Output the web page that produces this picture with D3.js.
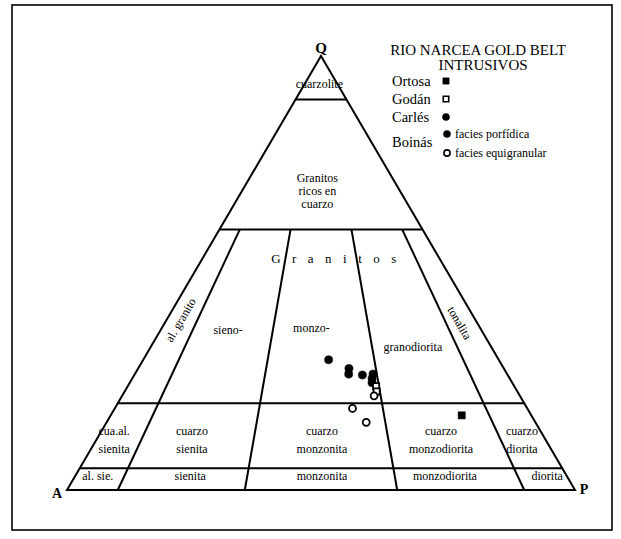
<!DOCTYPE html>
<html>
<head>
<meta charset="utf-8">
<script src="https://cdn.jsdelivr.net/npm/d3@7"></script>
<style>
  body { margin: 0; background: #fff; }
  text { font-family: "Liberation Serif", "Times New Roman", serif; fill: #000; }
</style>
</head>
<body>
<div id="app"></div>
<script>
// Q levels (horizontal boundaries) and P/(A+P) ratios (radial boundaries), in %
const qLevels = [90, 60, 20, 5];
const pRatios = [10, 35, 65, 90];

// samples as [Q, A, P]
const ortosa = [[17.2, 13.7, 69.1]];
const godan = [[23.9, 27.2, 48.9], [22.7, 27.7, 49.6]];
const carles = [[30.0, 33.5, 36.5], [28.0, 30.5, 41.5], [26.7, 31.2, 42.1]];
const boinasPorf = [[26.5, 28.6, 44.9], [26.7, 26.4, 46.9], [25.7, 27.1, 47.2], [24.7, 27.6, 47.7]];
const boinasEqui = [[21.7, 28.7, 49.6], [18.8, 34.4, 46.8], [15.6, 33.3, 51.1]];

// field names, anchored at [Q%, P/(A+P)%]
const fieldNames = [
  { t: ["cuarzolite"], at: [93.5, 45] },
  { t: ["Granitos", "ricos en", "cuarzo"], at: [68.9, 47.7] },
  { t: ["sieno-"], at: [36.9, 21] },
  { t: ["monzo-"], at: [37.3, 47] },
  { t: ["granodiorita"], at: [33, 77] },
  { t: ["cua.al.", "sienita"], at: [11.5, 4] },
  { t: ["cuarzo", "sienita"], at: [11.5, 21.3] },
  { t: ["cuarzo", "monzonita"], at: [11.5, 50.2] },
  { t: ["cuarzo", "monzodiorita"], at: [11.5, 76.7] },
  { t: ["cuarzo", "diorita"], at: [11.5, 94.7] },
  { t: ["al. sie."], at: [3.2, 4.6] },
  { t: ["sienita"], at: [3.2, 23.4] },
  { t: ["monzonita"], at: [3.2, 50.2] },
  { t: ["monzodiorita"], at: [3.2, 75.2] },
  { t: ["diorita"], at: [3.2, 96] }
];
const sideNames = [
  { t: "al. granito", at: [39.2, 4.5], side: "left" },
  { t: "tonalita", at: [38.5, 94.4], side: "right" }
];

const W = 621, H = 539;
const svg = d3.select("#app").append("svg").attr("width", W).attr("height", H);

svg.append("rect").attr("x", 12).attr("y", 5).attr("width", 600).attr("height", 525)
  .attr("fill", "none").attr("stroke", "#000").attr("stroke-width", 1.6);

const yQ = d3.scaleLinear().domain([0, 100]).range([490, 56]);
const xBase = d3.scaleLinear().domain([0, 100]).range([67, 575]);
const proj = (q, r) => {
  const t = q / 100;
  return [(1 - t) * xBase(r) + t * xBase(50), yQ(q)];
};
const projQAP = ([q, a, p]) => {
  const s = q + a + p;
  return proj(100 * q / s, 100 * p / (a + p));
};

const line = d3.line();
const g = svg.append("g").attr("fill", "none").attr("stroke", "#000").attr("stroke-width", 2);

g.append("path").attr("d", line([proj(0, 0), proj(100, 50), proj(0, 100)]) + "Z")
  .attr("stroke-linejoin", "miter");
qLevels.forEach(q => g.append("path").attr("d", line([proj(q, 0), proj(q, 100)])));
pRatios.forEach(r => g.append("path").attr("d", line([proj(0, r), proj(60, r)])));

// field labels
fieldNames.forEach(d => {
  const [x, y] = proj(d.at[0], d.at[1]);
  const n = d.t.length;
  const step = n === 3 ? 13 : 18;
  const txt = svg.append("text").attr("text-anchor", "middle").attr("font-size", 12);
  d.t.forEach((s, i) => {
    txt.append("tspan").attr("x", x).attr("y", y + (i - (n - 1) / 2) * step + 4).text(s);
  });
});

// "G r a n i t o s"
{
  const [x, y] = proj(53.5, 55.3);
  svg.append("text").attr("x", x + 6).attr("y", y + 5).attr("text-anchor", "middle")
    .attr("font-size", 13).attr("letter-spacing", 11.5).text("Granitos");
}

const angL = Math.atan2(yQ(0) - yQ(100), xBase(50) - xBase(0)) * 180 / Math.PI;
sideNames.forEach(d => {
  const [x, y] = proj(d.at[0], d.at[1]);
  const a = d.side === "left" ? -angL : angL;
  svg.append("text").attr("transform", `translate(${x},${y}) rotate(${a})`)
    .attr("text-anchor", "middle").attr("dy", "0.35em").attr("font-size", 12).text(d.t);
});

// vertex labels
svg.append("text").attr("x", xBase(50)).attr("y", 53).attr("text-anchor", "middle")
  .attr("font-size", 15).attr("font-weight", "bold").text("Q");
svg.append("text").attr("x", xBase(0) - 10).attr("y", 498).attr("text-anchor", "middle")
  .attr("font-size", 14).attr("font-weight", "bold").text("A");
svg.append("text").attr("x", xBase(100) + 9).attr("y", 494).attr("text-anchor", "middle")
  .attr("font-size", 14).attr("font-weight", "bold").text("P");

// samples
const sym = (type, size) => d3.symbol().type(type).size(size)();
const drawSet = (data, type, filled) => {
  svg.append("g").selectAll("path").data(data).join("path")
    .attr("transform", d => `translate(${projQAP(d)})`)
    .attr("d", sym(type, filled ? 52 : 38))
    .attr("fill", filled ? "#000" : "#fff")
    .attr("stroke", "#000").attr("stroke-width", filled ? 0.5 : 1.8);
};
drawSet(carles, d3.symbolCircle, true);
drawSet(boinasPorf, d3.symbolCircle, true);
drawSet(godan, d3.symbolSquare, false);
drawSet(boinasEqui, d3.symbolCircle, false);
drawSet(ortosa, d3.symbolSquare, true);

// legend
const lg = svg.append("g");
lg.append("text").attr("x", 478).attr("y", 55).attr("text-anchor", "middle")
  .attr("font-size", 15).text("RIO NARCEA GOLD BELT");
lg.append("text").attr("x", 483).attr("y", 70).attr("text-anchor", "middle")
  .attr("font-size", 15).text("INTRUSIVOS");

const legendRows = [
  { name: "Ortosa", y: 81, type: d3.symbolSquare, filled: true },
  { name: "Godán", y: 99, type: d3.symbolSquare, filled: false },
  { name: "Carlés", y: 117, type: d3.symbolCircle, filled: true }
];
legendRows.forEach(d => {
  lg.append("text").attr("x", 392).attr("y", d.y + 5).attr("font-size", 14.5).text(d.name);
  lg.append("path").attr("transform", `translate(446,${d.y})`)
    .attr("d", sym(d.type, d.filled ? 40 : 30))
    .attr("fill", d.filled ? "#000" : "#fff").attr("stroke", "#000")
    .attr("stroke-width", d.filled ? 0.5 : 1.6);
});
lg.append("text").attr("x", 392).attr("y", 147).attr("font-size", 14.5).text("Boinás");
[{ t: "facies porfídica", y: 134, filled: true }, { t: "facies equigranular", y: 153, filled: false }]
  .forEach(d => {
    lg.append("path").attr("transform", `translate(447,${d.y})`)
      .attr("d", sym(d3.symbolCircle, d.filled ? 40 : 30))
      .attr("fill", d.filled ? "#000" : "#fff").attr("stroke", "#000")
      .attr("stroke-width", d.filled ? 0.5 : 1.6);
    lg.append("text").attr("x", 455).attr("y", d.y + 4).attr("font-size", 12).text(d.t);
  });
</script>
</body>
</html>
